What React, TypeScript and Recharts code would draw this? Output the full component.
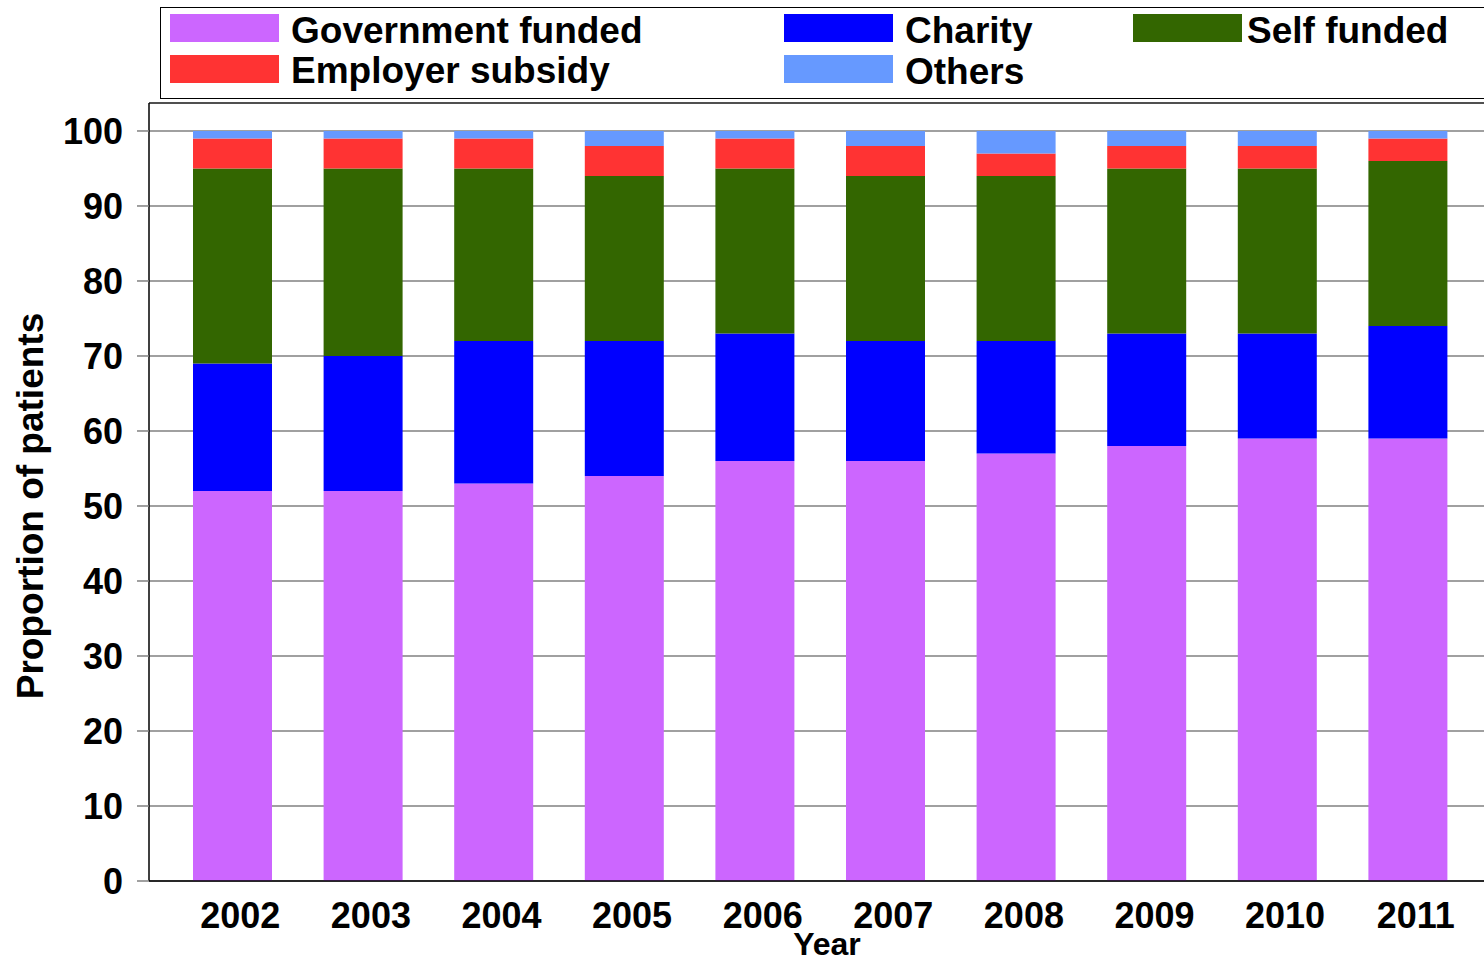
import React from 'react';
import { BarChart, Bar, XAxis, YAxis, CartesianGrid, Legend, ReferenceLine } from 'recharts';

const years = ['2002', '2003', '2004', '2005', '2006', '2007', '2008', '2009', '2010', '2011'];
const government = [52, 52, 53, 54, 56, 56, 57, 58, 59, 59];
const charity = [17, 18, 19, 18, 17, 16, 15, 15, 14, 15];
const selfFunded = [26, 25, 23, 22, 22, 22, 22, 22, 22, 22];
const employer = [4, 4, 4, 4, 4, 4, 3, 3, 3, 3];
const others = [1, 1, 1, 2, 1, 2, 3, 2, 2, 1];
const yTicks = [0, 10, 20, 30, 40, 50, 60, 70, 80, 90, 100];
const Y_MAX = 103.73;

const FONT = '"Liberation Sans", Arial, Helvetica, sans-serif';

const series = [
  { key: 'government', name: 'Government funded', color: '#CC66FF' },
  { key: 'charity', name: 'Charity', color: '#0000FF' },
  { key: 'selfFunded', name: 'Self funded', color: '#336600' },
  { key: 'employer', name: 'Employer subsidy', color: '#FF3333' },
  { key: 'others', name: 'Others', color: '#6699FF' },
];

const data = years.map((year, i) => ({
  year,
  government: government[i],
  charity: charity[i],
  selfFunded: selfFunded[i],
  employer: employer[i],
  others: others[i],
}));

const legendPos: Record<string, { x: number; y: number; tx: number; ty: number }> = {
  government: { x: 170, y: 14, tx: 291, ty: 43 },
  charity: { x: 784, y: 14, tx: 905, ty: 43 },
  selfFunded: { x: 1133, y: 14, tx: 1247, ty: 43 },
  employer: { x: 170, y: 55, tx: 291, ty: 83 },
  others: { x: 784, y: 55, tx: 905, ty: 84 },
};

const LegendContent = () => (
  <svg width={1484} height={100} style={{ display: 'block' }}>
    <rect x={160.5} y={7.5} width={1340} height={91} fill="#fff" stroke="#000" strokeWidth={1} />
    {series.map((s) => {
      const p = legendPos[s.key];
      return (
        <g key={s.key}>
          <rect x={p.x} y={p.y} width={109} height={28} fill={s.color} />
          <text x={p.tx} y={p.ty} fontFamily={FONT} fontWeight={700} fontSize={37} fill="#000">
            {s.name}
          </text>
        </g>
      );
    })}
  </svg>
);

const XTick = (props: any) => {
  const { x, y, payload } = props;
  return (
    <text x={x + 8} y={y + 47} textAnchor="middle" fontFamily={FONT} fontWeight={700} fontSize={36} fill="#000">
      {payload.value}
    </text>
  );
};

const YLabel = () => (
  <text
    x={43}
    y={506}
    transform="rotate(-90, 43, 506)"
    textAnchor="middle"
    fontFamily={FONT}
    fontWeight={700}
    fontSize={37}
    fill="#000"
  >
    Proportion of patients
  </text>
);

const XLabel = () => (
  <text x={827} y={955} textAnchor="middle" fontFamily={FONT} fontWeight={700} fontSize={32} fill="#000">
    Year
  </text>
);

export default function App() {
  return (
    <div
      style={{
        position: 'fixed',
        left: 0,
        top: 0,
        width: 1484,
        height: 963,
        overflow: 'hidden',
        background: '#fff',
      }}
    >
      <BarChart width={1500} height={963} data={data} margin={{ top: 103, right: 9, bottom: 0, left: 0 }}>
        <CartesianGrid vertical={false} stroke="#808080" strokeWidth={1.5} />
        <XAxis
          dataKey="year"
          height={82}
          interval={0}
          tickLine={false}
          tickSize={0}
          tickMargin={0}
          padding={{ left: 18, right: 18 }}
          axisLine={{ stroke: '#000', strokeWidth: 1.5 }}
          tick={<XTick />}
          label={{ content: <XLabel /> }}
        />
        <YAxis
          width={149}
          domain={[0, Y_MAX]}
          ticks={yTicks}
          allowDataOverflow
          tickSize={12}
          tickMargin={14}
          tickLine={{ stroke: '#808080', strokeWidth: 1.5 }}
          axisLine={{ stroke: '#000', strokeWidth: 1.5 }}
          tick={{ fill: '#000', fontSize: 36, fontWeight: 700, fontFamily: FONT }}
          label={{ content: <YLabel /> }}
        />
        <ReferenceLine y={Y_MAX} stroke="#000" strokeWidth={1.2} ifOverflow="visible" />
        <Legend
          layout="horizontal"
          verticalAlign="middle"
          align="center"
          content={<LegendContent />}
          wrapperStyle={{ left: 0, top: 0, width: 1484, height: 100 }}
        />
        {series.map((s) => (
          <Bar
            key={s.key}
            dataKey={s.key}
            name={s.name}
            stackId="a"
            fill={s.color}
            barSize={79}
            isAnimationActive={false}
          />
        ))}
      </BarChart>
    </div>
  );
}
